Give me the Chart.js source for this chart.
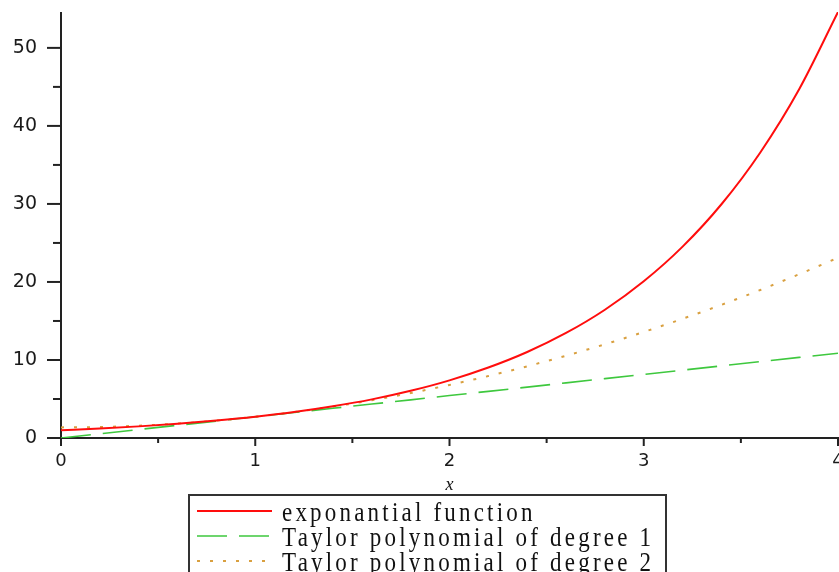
<!DOCTYPE html>
<html>
<head>
<meta charset="utf-8">
<script src="https://cdn.jsdelivr.net/npm/chart.js@4.4.1/dist/chart.umd.min.js"></script>
<style>
  html, body { margin: 0; padding: 0; background: #fff; }
</style>
</head>
<body>
<canvas id="taylorChart" width="839" height="572"></canvas>
<script>
// sample points along x
const xValues = [0, 0.2, 0.4, 0.6, 0.8, 1.0, 1.2, 1.4, 1.6, 1.8, 2.0,
                 2.2, 2.4, 2.6, 2.8, 3.0, 3.2, 3.4, 3.6, 3.8, 4.0];
const expValues = [1.00, 1.22, 1.49, 1.82, 2.23, 2.72, 3.32, 4.06, 4.95, 6.05, 7.39,
                   9.03, 11.02, 13.46, 16.44, 20.09, 24.53, 29.96, 36.60, 44.70, 54.60];
const taylor1Values = [0, 0.54, 1.09, 1.63, 2.17, 2.72, 3.26, 3.81, 4.35, 4.89, 5.44,
                       5.98, 6.52, 7.07, 7.61, 8.15, 8.70, 9.24, 9.79, 10.33, 10.87];
const taylor2Values = [1.36, 1.41, 1.58, 1.85, 2.23, 2.72, 3.32, 4.02, 4.84, 5.76, 6.80,
                       7.94, 9.19, 10.55, 12.01, 13.59, 15.28, 17.07, 18.97, 20.99, 23.10];
const seriesLabels = ['exponantial function', 'Taylor polynomial of degree 1', 'Taylor polynomial of degree 2'];

const toPoints = ys => xValues.map((x, i) => ({ x, y: ys[i] }));

// axis lines and the long/short tick marks
const axesPlugin = {
  id: 'axes',
  beforeDatasetsDraw(chart) {
    const { ctx, scales: { x, y } } = chart;
    const x0 = x.getPixelForValue(0);
    const y0 = y.getPixelForValue(0);
    ctx.save();
    ctx.strokeStyle = '#222';
    ctx.lineWidth = 2;
    const line = (a, b, c, d) => { ctx.beginPath(); ctx.moveTo(a, b); ctx.lineTo(c, d); ctx.stroke(); };
    line(x0, y.top, x0, y0 + 8);
    line(x0 - 14, y0, x.right + 1, y0);
    y.ticks.forEach(t => {
      const py = y.getPixelForValue(t.value);
      line(x0 - (t.value % 10 === 0 ? 14 : 8), py, x0, py);
    });
    x.ticks.forEach(t => {
      const px = x.getPixelForValue(t.value);
      line(px, y0, px, y0 + (Number.isInteger(t.value) ? 8 : 5));
    });
    ctx.restore();
  }
};

// boxed legend under the plot plus the x axis name
const legendPlugin = {
  id: 'boxLegend',
  afterDraw(chart) {
    const { ctx, scales: { x } } = chart;
    ctx.save();
    ctx.fillStyle = '#111';
    ctx.font = 'italic 18px "Liberation Serif"';
    ctx.textAlign = 'center';
    ctx.textBaseline = 'middle';
    ctx.fillText('x', x.getPixelForValue(2), x.top + 47);

    ctx.strokeStyle = '#333';
    ctx.lineWidth = 2;
    ctx.strokeRect(189, 495, 477, 100);

    ctx.textAlign = 'left';
    ctx.font = '23px "Liberation Serif"';
    ctx.letterSpacing = '3.2px';
    chart.data.datasets.forEach((ds, i) => {
      const cy = 511 + i * 25;
      ctx.strokeStyle = ds.borderColor;
      ctx.lineWidth = ds.borderWidth;
      ctx.setLineDash(ds.borderDash || []);
      ctx.beginPath();
      ctx.moveTo(197, cy);
      ctx.lineTo(272, cy);
      ctx.stroke();
      ctx.setLineDash([]);
      ctx.fillStyle = '#111';
      // legend text is a little taller than the plain font
      ctx.save();
      ctx.translate(282, cy + 3);
      ctx.scale(1, 1.15);
      ctx.fillText(ds.label, 0, 0);
      ctx.restore();
    });
    ctx.restore();
  }
};

new Chart(document.getElementById('taylorChart'), {
  type: 'line',
  data: {
    datasets: [
      {
        label: seriesLabels[0],
        data: toPoints(expValues),
        borderColor: '#ff0d0d',
        borderWidth: 2,
        cubicInterpolationMode: 'monotone'
      },
      {
        label: seriesLabels[1],
        data: toPoints(taylor1Values),
        borderColor: '#3ec83e',
        borderWidth: 1.6,
        borderDash: [30, 12]
      },
      {
        label: seriesLabels[2],
        data: toPoints(taylor2Values),
        borderColor: '#d9a040',
        borderWidth: 2,
        borderDash: [3, 10],
        cubicInterpolationMode: 'monotone'
      }
    ]
  },
  options: {
    responsive: false,
    animation: false,
    layout: { padding: { top: 12, right: 1, left: 0, bottom: 0 } },
    elements: { point: { radius: 0 } },
    plugins: { legend: { display: false }, tooltip: { enabled: false } },
    scales: {
      x: {
        type: 'linear',
        min: 0,
        max: 4,
        border: { display: false },
        grid: { drawOnChartArea: false, tickLength: 8, tickColor: 'rgba(0,0,0,0)' },
        ticks: {
          stepSize: 0.5,
          autoSkip: false,
          maxRotation: 0,
          padding: 5,
          color: '#1a1a1a',
          font: { family: 'DejaVu Sans', size: 18 },
          callback: v => Number.isInteger(v) ? v : ''
        },
        afterFit(s) { s.height = 134; s.paddingLeft = 0; s.paddingRight = 0; }
      },
      y: {
        min: 0,
        max: 54.6,
        border: { display: false },
        grid: { drawOnChartArea: false, tickLength: 14, tickColor: 'rgba(0,0,0,0)' },
        ticks: {
          stepSize: 5,
          includeBounds: false,
          autoSkip: false,
          padding: 10,
          color: '#1a1a1a',
          font: { family: 'DejaVu Sans', size: 19 },
          callback: v => v % 10 === 0 ? v : ''
        },
        afterFit(s) { s.width = 61; s.paddingTop = 0; s.paddingBottom = 0; }
      }
    }
  },
  plugins: [axesPlugin, legendPlugin]
});
</script>
</body>
</html>
